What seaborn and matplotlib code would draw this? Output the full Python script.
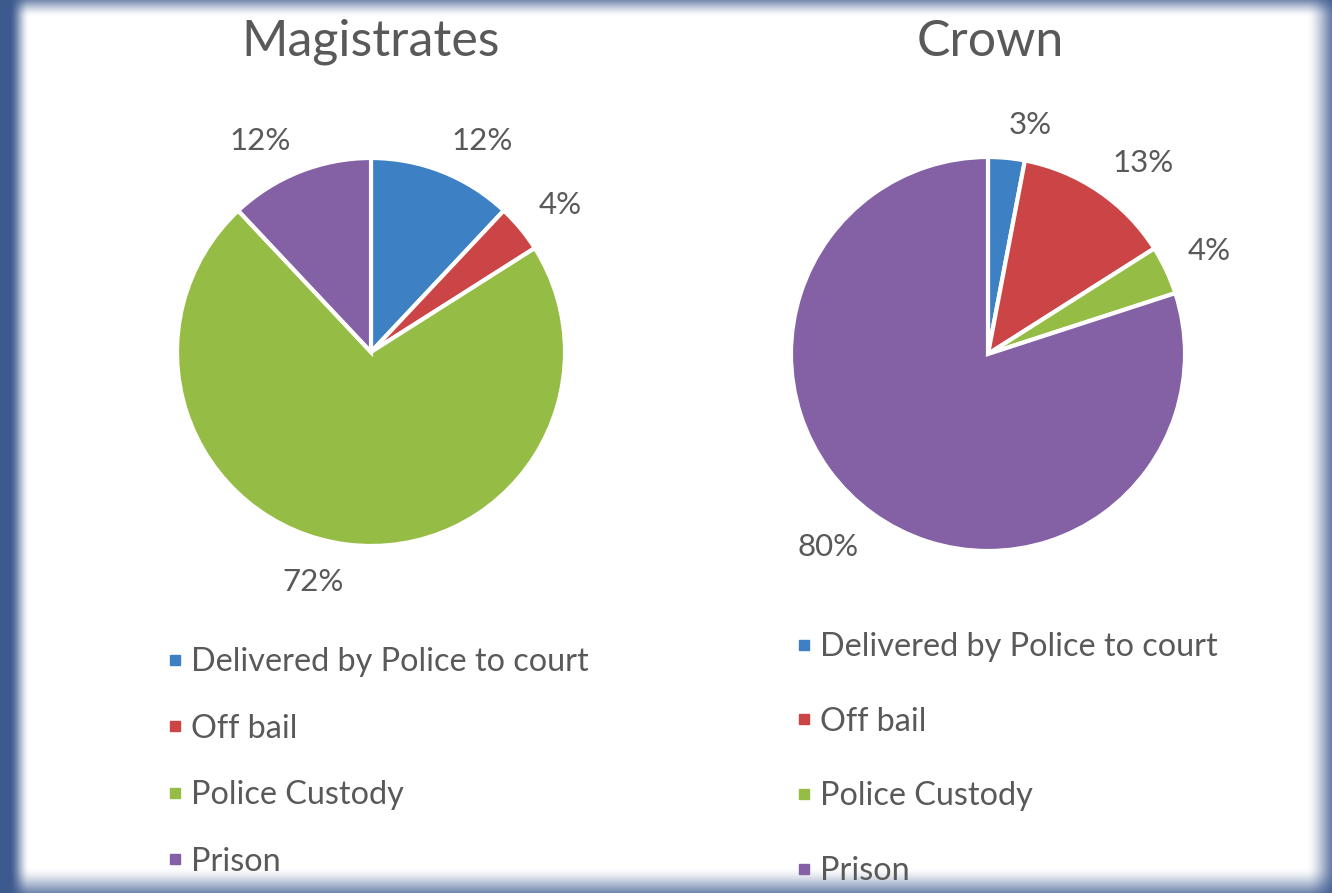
import numpy as np
import matplotlib
matplotlib.use("Agg")
import matplotlib.pyplot as plt
from matplotlib.lines import Line2D
import seaborn as sns

sns.set_theme(style="white")
plt.rcParams["font.family"] = ["Lato", "DejaVu Sans"]

# Data
categories = ["Delivered by Police to court", "Off bail", "Police Custody", "Prison"]
magistrates = [12, 4, 72, 12]
crown = [3, 13, 4, 80]
titles = ["Magistrates", "Crown"]
colors = ["#3d80c3", "#cb4546", "#95bd45", "#8460a5"]

TEXT = "#595959"
FRAME = "#3d5a8f"

W, H = 1332, 893
fig = plt.figure(figsize=(W / 100, H / 100), dpi=100)

# Framed background: dark blue edge fading into a white panel
xs = np.arange(W)
ys = np.arange(H)
def ramp(v, a0, a1, b0, b1):
    up = np.clip((v - a0) / (a1 - a0), 0, 1)
    down = np.clip((b1 - v) / (b1 - b0), 0, 1)
    t = np.minimum(up, down)
    return t * t * (3 - 2 * t)
fx = ramp(xs, 9, 29, 1306, 1342)
fy = ramp(ys, -10, 17, 866, 906)
w = fy[:, None] * fx[None, :]
blue = np.array(matplotlib.colors.to_rgb(FRAME))
img = blue[None, None, :] * (1 - w[..., None]) + w[..., None]
fig.figimage(img, xo=0, yo=0, origin="upper", zorder=-5)

def px_axes(cx, cy_top, half):
    return fig.add_axes([(cx - half) / W, (H - cy_top - half) / H, 2 * half / W, 2 * half / H])

panels = [
    dict(vals=magistrates, cx=371, cy=352, r=194, title_x=371, leg_x=165, leg_y=647, spacing=1.13),
    dict(vals=crown, cx=988, cy=354, r=197, title_x=990, leg_x=794, leg_y=632, spacing=1.38),
]

for p, title in zip(panels, titles):
    half = 250
    ax = px_axes(p["cx"], p["cy"], half)
    ax.patch.set_alpha(0)
    lim = half / p["r"]
    wedges, _, autotexts = ax.pie(
        p["vals"], colors=colors, startangle=90, counterclock=False,
        autopct=lambda v: f"{v:.0f}%", pctdistance=1.12,
        wedgeprops=dict(edgecolor="white", linewidth=3),
        textprops=dict(color=TEXT, fontsize=22.5),
    )
    # Anchor each value label by its corner nearest the pie, just outside the rim
    for wdg, t in zip(wedges, autotexts):
        mid = np.deg2rad((wdg.theta1 + wdg.theta2) / 2)
        t.set_ha("left" if np.cos(mid) >= 0 else "right")
        t.set_va("baseline" if np.sin(mid) >= 0 else "top")
    ax.set_xlim(-lim, lim)
    ax.set_ylim(-lim, lim)
    ax.set_aspect("equal")
    ax.axis("off")
    fig.text(p["title_x"] / W, 1 - 42 / H, title, ha="center", va="center",
             fontsize=36, color=TEXT)
    handles = [Line2D([], [], marker="s", linestyle="none", markersize=7.5,
                      markerfacecolor=c, markeredgecolor=c) for c in colors]
    fig.legend(handles, categories, loc="upper left",
               bbox_to_anchor=(p["leg_x"] / W, 1 - p["leg_y"] / H),
               frameon=False, fontsize=23.3, labelcolor=TEXT,
               handletextpad=0.2, handlelength=0.6, labelspacing=p["spacing"],
               borderpad=0, borderaxespad=0)

fig.savefig("out.png", dpi=100)
